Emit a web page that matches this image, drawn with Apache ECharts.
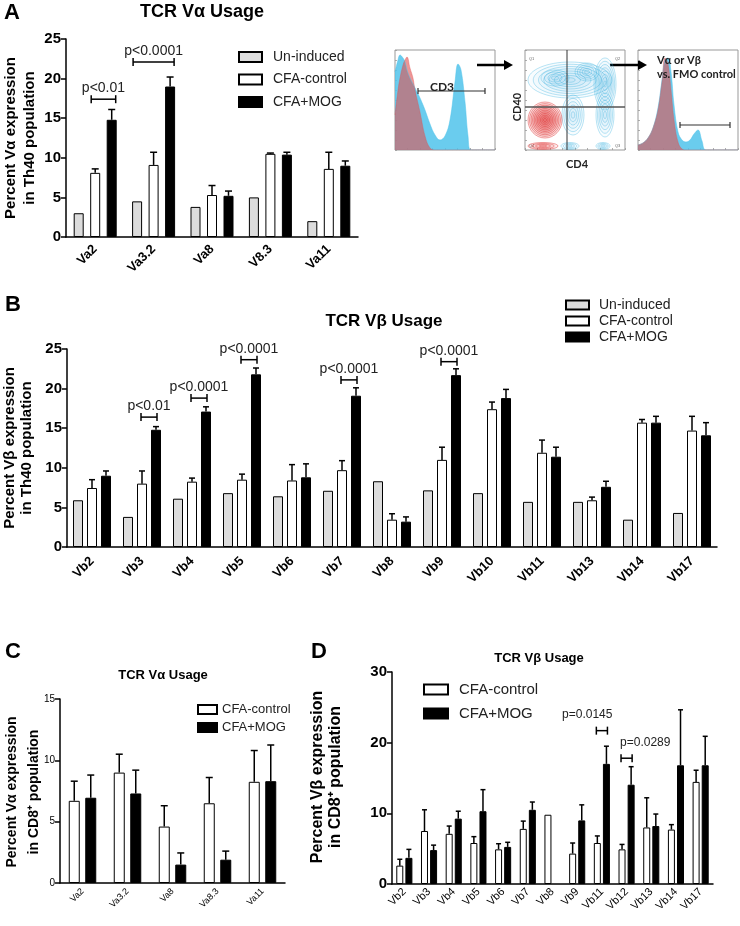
<!DOCTYPE html>
<html>
<head>
<meta charset="utf-8">
<script src="https://cdn.jsdelivr.net/npm/echarts@6/dist/echarts.min.js"></script>
<style>
  html, body { margin: 0; padding: 0; background: #fff; }
  #chart { width: 740px; height: 926px; }
</style>
</head>
<body>
<div id="chart"></div>
<script>
// ---- panel A: TCR Va usage in Th40 ----
const aCats = ['Va2', 'Va3.2', 'Va8', 'V8.3', 'Va11'];
const aUninduced = [3.0, 4.5, 3.8, 5.0, 2.0];
const aControl = [8.1, 9.1, 5.3, 10.5, 8.6];
const aControlSem = [0.5, 1.6, 1.2, 0.1, 2.1];
const aMog = [14.8, 19.0, 5.2, 10.4, 9.0];
const aMogSem = [1.3, 1.2, 0.6, 0.3, 0.6];
const aSig = [
  { cat: 0, from: 1, to: 2, y: 17.4, label: 'p<0.01' },
  { cat: 1, from: 0, to: 2, y: 22.1, label: 'p<0.0001' }
];

// ---- panel B: TCR Vb usage in Th40 ----
const bCats = ['Vb2', 'Vb3', 'Vb4', 'Vb5', 'Vb6', 'Vb7', 'Vb8', 'Vb9', 'Vb10', 'Vb11', 'Vb13', 'Vb14', 'Vb17'];
const bUninduced = [5.9, 3.8, 6.1, 6.8, 6.4, 7.1, 8.3, 7.15, 6.8, 5.7, 5.7, 3.45, 4.3];
const bControl = [7.45, 8.0, 8.25, 8.5, 8.4, 9.7, 3.45, 11.0, 17.4, 11.9, 5.9, 15.7, 14.7];
const bControlSem = [1.05, 1.6, 0.45, 0.7, 2.0, 1.2, 0.75, 1.6, 0.9, 1.6, 0.4, 0.4, 1.8];
const bMog = [9.0, 14.8, 17.1, 21.8, 8.8, 19.1, 3.2, 21.7, 18.8, 11.4, 7.6, 15.7, 14.1];
const bMogSem = [0.6, 0.4, 0.6, 0.8, 1.7, 1.0, 0.6, 0.8, 1.1, 1.2, 0.7, 0.8, 1.6];
const bSig = [
  { cat: 1, from: 1, to: 2, y: 16.4, label: 'p<0.01' },
  { cat: 2, from: 1, to: 2, y: 18.8, label: 'p<0.0001' },
  { cat: 3, from: 1, to: 2, y: 23.65, label: 'p<0.0001' },
  { cat: 5, from: 1, to: 2, y: 21.1, label: 'p<0.0001' },
  { cat: 7, from: 1, to: 2, y: 23.4, label: 'p<0.0001' }
];

// ---- panel C: TCR Va usage in CD8+ ----
const cCats = ['Va2', 'Va3.2', 'Va8', 'Va8.3', 'Va11'];
const cControl = [6.7, 9.0, 4.6, 6.5, 8.25];
const cControlSem = [1.6, 1.5, 1.7, 2.1, 2.55];
const cMog = [6.95, 7.3, 1.5, 1.9, 8.3];
const cMogSem = [1.85, 1.9, 0.95, 0.7, 2.95];

// ---- panel D: TCR Vb usage in CD8+ ----
const dCats = ['Vb2', 'Vb3', 'Vb4', 'Vb5', 'Vb6', 'Vb7', 'Vb8', 'Vb9', 'Vb11', 'Vb12', 'Vb13', 'Vb14', 'Vb17'];
const dControl = [2.6, 7.5, 7.1, 5.8, 4.9, 7.8, 9.8, 4.3, 5.8, 4.9, 8.0, 7.7, 14.45];
const dControlSem = [0.9, 3.0, 1.1, 0.9, 0.8, 1.1, 0, 1.5, 1.0, 0.7, 4.2, 0.7, 1.65];
const dMog = [3.7, 4.8, 9.25, 10.3, 5.25, 10.5, null, 9.0, 17.0, 14.05, 8.2, 16.8, 16.8];
const dMogSem = [1.2, 0.7, 1.05, 3.05, 0.65, 1.1, null, 2.2, 2.5, 2.55, 1.7, 7.85, 4.1];
const dSig = [
  { cat: 8, from: 0, to: 1, y: 21.7, label: 'p=0.0145' },
  { cat: 9, from: 0, to: 1, y: 17.8, label: 'p=0.0289' }
];

// ---- gating illustration (flow cytometry) ----
const cd3Bins = [0, 3, 5, 8, 10, 12, 15, 18, 20, 25, 30, 35, 40, 45, 50, 55, 60, 63, 66, 70, 73, 76, 100];
const cd3Stained = [78, 90, 95, 92, 88, 80, 72, 66, 62, 52, 40, 26, 15, 10, 14, 30, 68, 86, 80, 48, 14, 0, 0];
const cd3Fmo = [35, 60, 72, 85, 90, 93, 82, 72, 60, 38, 14, 2, 0, 0, 0, 0, 0, 0, 0, 0, 0, 0, 0];
const vbBins = [0, 5, 10, 15, 20, 24, 27, 30, 33, 36, 40, 44, 48, 52, 56, 60, 64, 68, 100];
const vbStained = [5, 7, 12, 22, 42, 70, 90, 92, 78, 45, 18, 10, 8, 10, 16, 20, 9, 0, 0];
const vbFmo = [5, 7, 12, 22, 40, 68, 92, 86, 60, 30, 8, 1, 0, 0, 0, 0, 0, 0, 0];
// contour blobs: [cx, cy, rx, ry, colour (0 blue / 1 red), rings]
const cd4Cd40Blobs = [
  [45, 70, 42, 18, 0, 8],
  [30, 72, 14, 8, 0, 4],
  [62, 78, 12, 9, 0, 5],
  [80, 66, 11, 26, 0, 8],
  [80, 35, 9, 22, 0, 6],
  [48, 35, 11, 20, 0, 6],
  [20, 30, 17, 18, 1, 11],
  [18, 4, 15, 3.5, 1, 4],
  [45, 4, 9, 3.5, 0, 4],
  [78, 4, 7, 3.5, 0, 4]
];

const FONT = '"Liberation Sans", Arial, sans-serif';
const FLOWFONT = 'Lato, "Open Sans", sans-serif';
const GRAY = '#dcdcdc';

function catAxis(gi, cats, size, weight, margin) {
  return {
    type: 'category', gridIndex: gi, data: cats,
    axisLine: { lineStyle: { color: '#000', width: 1.5 } },
    axisTick: { alignWithLabel: true, length: 5, lineStyle: { color: '#000', width: 1.5 } },
    axisLabel: { rotate: 45, interval: 0, margin: margin, color: '#000', fontSize: size, fontWeight: weight, fontFamily: FONT }
  };
}
function valAxis(gi, max, interval, size, weight) {
  return {
    type: 'value', gridIndex: gi, min: 0, max: max, interval: interval,
    axisLine: { show: true, lineStyle: { color: '#000', width: 1.5 } },
    axisTick: { show: true, length: 5, lineStyle: { color: '#000', width: 1.5 } },
    splitLine: { show: false },
    axisLabel: { color: '#000', fontSize: size, fontWeight: weight, fontFamily: FONT, margin: 5 }
  };
}
function flowAxis(gi, dim) {
  return {
    type: 'value', gridIndex: gi, min: 0, max: 100, interval: dim === 'x' ? 12.5 : 10,
    axisLine: { show: false }, axisLabel: { show: false }, splitLine: { show: false },
    axisTick: { show: true, length: 2, inside: true, lineStyle: { color: '#999', width: 0.8 } }
  };
}
function bar(gi, name, data, color, width, gap) {
  return {
    type: 'bar', name: name, xAxisIndex: gi, yAxisIndex: gi, silent: true,
    data: data.map(v => (v == null ? '-' : v)),
    barWidth: width, barGap: gap,
    itemStyle: { color: color, borderColor: '#000', borderWidth: 1 }
  };
}
function errBars(gi, means, sems, offset, cap) {
  const data = [];
  means.forEach((m, i) => { if (m != null && sems[i]) data.push([i, m, m + sems[i]]); });
  return {
    type: 'custom', xAxisIndex: gi, yAxisIndex: gi, silent: true, clip: false, z: 4,
    data: data,
    renderItem: function (params, api) {
      const p0 = api.coord([api.value(0), api.value(1)]);
      const p1 = api.coord([api.value(0), api.value(2)]);
      const x = p0[0] + offset;
      const st = { stroke: '#000', lineWidth: 1.5 };
      return {
        type: 'group', children: [
          { type: 'line', shape: { x1: x, y1: p0[1], x2: x, y2: p1[1] }, style: st },
          { type: 'line', shape: { x1: x - cap, y1: p1[1], x2: x + cap, y2: p1[1] }, style: st }
        ]
      };
    }
  };
}
function sigBrackets(gi, sig, offsets, ext, endH, textGap, size, aligns) {
  return {
    type: 'custom', xAxisIndex: gi, yAxisIndex: gi, silent: true, clip: false, z: 5,
    data: sig.map(s => [s.cat, s.y]),
    renderItem: function (params, api) {
      const s = sig[params.dataIndex];
      const c = api.coord([s.cat, s.y]);
      const x1 = c[0] + offsets[s.from] - ext;
      const x2 = c[0] + offsets[s.to] + ext;
      const y = c[1];
      const st = { stroke: '#000', lineWidth: 1.5 };
      const al = aligns ? aligns[params.dataIndex] : 'center';
      const tx = al === 'center' ? (x1 + x2) / 2 : (al === 'right' ? x2 + 5 : x1 - 1);
      return {
        type: 'group', children: [
          { type: 'line', shape: { x1: x1, y1: y, x2: x2, y2: y }, style: st },
          { type: 'line', shape: { x1: x1, y1: y - endH, x2: x1, y2: y + endH }, style: st },
          { type: 'line', shape: { x1: x2, y1: y - endH, x2: x2, y2: y + endH }, style: st },
          {
            type: 'text', x: tx, y: y - textGap,
            style: { text: s.label, fill: '#222', font: size + 'px ' + FONT, textAlign: al, align: al, textVerticalAlign: 'middle', verticalAlign: 'middle' }
          }
        ]
      };
    }
  };
}
function hist(gi, bins, counts, color) {
  return {
    type: 'line', xAxisIndex: gi, yAxisIndex: gi, silent: true, smooth: 0.4, symbol: 'none',
    data: bins.map((b, i) => [b, counts[i]]),
    lineStyle: { width: 0.6, color: color },
    areaStyle: { color: color, opacity: 1 }
  };
}
function gate(gi, x1, x2, y) {
  return {
    type: 'custom', xAxisIndex: gi, yAxisIndex: gi, silent: true, z: 6,
    data: [[x1, y, x2]],
    renderItem: function (params, api) {
      const a = api.coord([api.value(0), api.value(1)]);
      const b = api.coord([api.value(2), api.value(1)]);
      const st = { stroke: '#333', lineWidth: 1.2 };
      return {
        type: 'group', children: [
          { type: 'line', shape: { x1: a[0], y1: a[1], x2: b[0], y2: b[1] }, style: st },
          { type: 'line', shape: { x1: a[0], y1: a[1] - 3, x2: a[0], y2: a[1] + 3 }, style: st },
          { type: 'line', shape: { x1: b[0], y1: b[1] - 3, x2: b[0], y2: b[1] + 3 }, style: st }
        ]
      };
    }
  };
}
function contours(gi, blobs) {
  return {
    type: 'custom', xAxisIndex: gi, yAxisIndex: gi, silent: true, clip: true, z: 3,
    data: blobs,
    renderItem: function (params, api) {
      const c = api.coord([api.value(0), api.value(1)]);
      const sz = api.size([api.value(2), api.value(3)]);
      const red = api.value(4) === 1;
      const n = api.value(5);
      const kids = [];
      for (let k = 1; k <= n; k++) {
        kids.push({
          type: 'ellipse',
          shape: { cx: c[0], cy: c[1], rx: sz[0] * k / n, ry: sz[1] * k / n },
          style: {
            fill: red ? 'rgba(230,60,60,0.10)' : 'rgba(70,190,230,0.04)',
            stroke: red ? 'rgba(225,55,55,0.8)' : 'rgba(60,180,225,0.6)',
            lineWidth: 0.6
          }
        });
      }
      return { type: 'group', children: kids };
    }
  };
}
function text(x, y, str, size, weight, opts) {
  return Object.assign({
    type: 'text', x: x, y: y, silent: true,
    style: {
      text: str, fill: '#000', font: weight + ' ' + size + 'px ' + FONT,
      textAlign: 'center', align: 'center', textVerticalAlign: 'middle', verticalAlign: 'middle'
    }
  }, opts || {});
}
function flowText(x, y, str, size, align, rot) {
  return {
    type: 'text', x: x, y: y, rotation: rot || 0, silent: true, z: 10,
    style: {
      text: str, fill: '#222', font: 'bold ' + size + 'px ' + FLOWFONT,
      textAlign: align, align: align, textVerticalAlign: 'middle', verticalAlign: 'middle'
    }
  };
}
function yTitle(x, y, str, size, lh) {
  return {
    type: 'text', x: x, y: y, rotation: Math.PI / 2, silent: true,
    style: {
      text: str, fill: '#000', font: 'bold ' + size + 'px ' + FONT, lineHeight: lh,
      textAlign: 'center', align: 'center', textVerticalAlign: 'middle', verticalAlign: 'middle'
    }
  };
}
function arrow(x1, x2, y) {
  return {
    type: 'group', silent: true, children: [
      { type: 'line', shape: { x1: x1, y1: y, x2: x2 - 8, y2: y }, style: { stroke: '#000', lineWidth: 2.5 } },
      { type: 'polygon', shape: { points: [[x2 - 9, y - 5], [x2, y], [x2 - 9, y + 5]] }, style: { fill: '#000' } }
    ]
  };
}

const chart = echarts.init(document.getElementById('chart'));
chart.setOption({
  animation: false,
  backgroundColor: '#fff',
  grid: [
    { left: 66, top: 39, width: 292, height: 198 },
    { left: 67, top: 349, width: 650, height: 198 },
    { left: 60, top: 699, width: 225, height: 184 },
    { left: 392, top: 672, width: 321, height: 212 },
    { left: 395, top: 50, width: 100, height: 100, show: true, borderColor: '#999', borderWidth: 1 },
    { left: 525, top: 50, width: 100, height: 100, show: true, borderColor: '#999', borderWidth: 1 },
    { left: 638, top: 50, width: 100, height: 100, show: true, borderColor: '#999', borderWidth: 1 }
  ],
  xAxis: [
    catAxis(0, aCats, 13, 'bold', 10),
    catAxis(1, bCats, 13, 'bold', 12),
    catAxis(2, cCats, 9, 'normal', 7),
    catAxis(3, dCats, 11, 'normal', 6),
    flowAxis(4, 'x'), flowAxis(5, 'x'), flowAxis(6, 'x')
  ],
  yAxis: [
    valAxis(0, 25, 5, 15, 'bold'),
    valAxis(1, 25, 5, 15, 'bold'),
    valAxis(2, 15, 5, 10, 'normal'),
    valAxis(3, 30, 10, 15, 'bold'),
    flowAxis(4, 'y'), flowAxis(5, 'y'), flowAxis(6, 'y')
  ],
  legend: [
    {
      data: ['Un-induced', 'CFA-control', 'CFA+MOG'], orient: 'vertical', left: 233, top: 45,
      itemWidth: 23, itemHeight: 10, itemGap: 8.5, selectedMode: false, icon: 'rect',
      textStyle: { fontSize: 14, fontFamily: FONT, color: '#222', padding: [0, 0, 0, 6] }
    },
    {
      data: ['Un-induced', 'CFA-control', 'CFA+MOG'], orient: 'vertical', left: 560, top: 293,
      itemWidth: 23, itemHeight: 9, itemGap: 2, selectedMode: false, icon: 'rect',
      textStyle: { fontSize: 14, fontFamily: FONT, color: '#222', padding: [0, 0, 0, 5] }
    },
    {
      data: ['CFA-control', 'CFA+MOG'], orient: 'vertical', left: 192, top: 698,
      itemWidth: 19, itemHeight: 9, itemGap: 5, selectedMode: false, icon: 'rect',
      textStyle: { fontSize: 13, fontFamily: FONT, color: '#222' }
    },
    {
      data: ['CFA-control', 'CFA+MOG'], orient: 'vertical', left: 418, top: 677,
      itemWidth: 24, itemHeight: 10, itemGap: 9, selectedMode: false, icon: 'rect',
      textStyle: { fontSize: 15, fontFamily: FONT, color: '#222', padding: [0, 0, 0, 6] }
    }
  ],
  series: [
    bar(0, 'Un-induced', aUninduced, GRAY, 10, '65%'),
    bar(0, 'CFA-control', aControl, '#fff', 10, '65%'),
    bar(0, 'CFA+MOG', aMog, '#000', 10, '65%'),
    errBars(0, aControl, aControlSem, 0, 3.5),
    errBars(0, aMog, aMogSem, 16.5, 3.5),
    sigBrackets(0, aSig, [-16.5, 0, 16.5], 4, 4, 11, 14),

    bar(1, 'Un-induced', bUninduced, GRAY, 10, '40%'),
    bar(1, 'CFA-control', bControl, '#fff', 10, '40%'),
    bar(1, 'CFA+MOG', bMog, '#000', 10, '40%'),
    errBars(1, bControl, bControlSem, 0, 3),
    errBars(1, bMog, bMogSem, 14, 3),
    sigBrackets(1, bSig, [-14, 0, 14], 1, 4, 11, 14),

    bar(2, 'CFA-control', cControl, '#fff', 11, '50%'),
    bar(2, 'CFA+MOG', cMog, '#000', 11, '50%'),
    errBars(2, cControl, cControlSem, -8.25, 3.5),
    errBars(2, cMog, cMogSem, 8.25, 3.5),

    bar(3, 'CFA-control', dControl, '#fff', 7, '30%'),
    bar(3, 'CFA+MOG', dMog, '#000', 7, '30%'),
    errBars(3, dControl, dControlSem, -4.55, 2.5),
    errBars(3, dMog, dMogSem, 4.55, 2.5),
    sigBrackets(3, dSig, [-4.55, 4.55], 1, 4, 16, 12, ['right', 'left']),

    hist(4, cd3Bins, cd3Stained, 'rgba(80,195,235,0.85)'),
    hist(4, cd3Bins, cd3Fmo, 'rgba(225,80,80,0.6)'),
    gate(4, 23, 90, 59),
    contours(5, cd4Cd40Blobs),
    hist(6, vbBins, vbStained, 'rgba(80,195,235,0.85)'),
    hist(6, vbBins, vbFmo, 'rgba(225,80,80,0.6)'),
    gate(6, 42, 92, 25)
  ],
  graphic: [
    text(12, 13, 'A', 22, 'bold'),
    text(13, 305, 'B', 22, 'bold'),
    text(13, 652, 'C', 22, 'bold'),
    text(319, 652, 'D', 22, 'bold'),
    text(202, 12, 'TCR V\u03b1 Usage', 18, 'bold'),
    text(384, 321, 'TCR V\u03b2 Usage', 17, 'bold'),
    text(163, 675, 'TCR V\u03b1 Usage', 13, 'bold'),
    text(539, 658, 'TCR V\u03b2 Usage', 13, 'bold'),
    yTitle(20, 138, 'Percent V\u03b1 expression\nin Th40 population', 15, 19),
    yTitle(18, 448, 'Percent V\u03b2 expression\nin Th40 population', 15, 17),
    yTitle(23, 792, 'Percent V\u03b1 expression\nin CD8\u207a population', 14, 22),
    yTitle(327, 777, 'Percent V\u03b2 expression\nin CD8\u207a population', 16, 18),
    // gating illustration
    { type: 'line', silent: true, z: 10, shape: { x1: 567, y1: 50, x2: 567, y2: 150 }, style: { stroke: '#333', lineWidth: 1 } },
    { type: 'line', silent: true, z: 10, shape: { x1: 525, y1: 107, x2: 625, y2: 107 }, style: { stroke: '#555', lineWidth: 1.5 } },
    arrow(477, 513, 65),
    arrow(610, 647, 65),
    flowText(442, 87, 'CD3', 12, 'center'),
    flowText(577, 164, 'CD4', 11, 'center'),
    flowText(517, 107, 'CD40', 11, 'center', Math.PI / 2),
    flowText(657, 60, 'V\u03b1 or V\u03b2', 11, 'left'),
    flowText(657, 74, 'vs. FMO control', 11, 'left'),
    text(529, 57, 'Q1', 4, 'normal', { style: { text: 'Q1', fill: '#666', font: '4px ' + FONT } }),
    text(615, 57, 'Q2', 4, 'normal', { style: { text: 'Q2', fill: '#666', font: '4px ' + FONT } }),
    text(615, 144, 'Q3', 4, 'normal', { style: { text: 'Q3', fill: '#666', font: '4px ' + FONT } }),
    text(529, 144, 'Q4', 4, 'normal', { style: { text: 'Q4', fill: '#666', font: '4px ' + FONT } })
  ]
});
window.addEventListener('resize', function () {
  chart.resize();
});
</script>
</body>
</html>
